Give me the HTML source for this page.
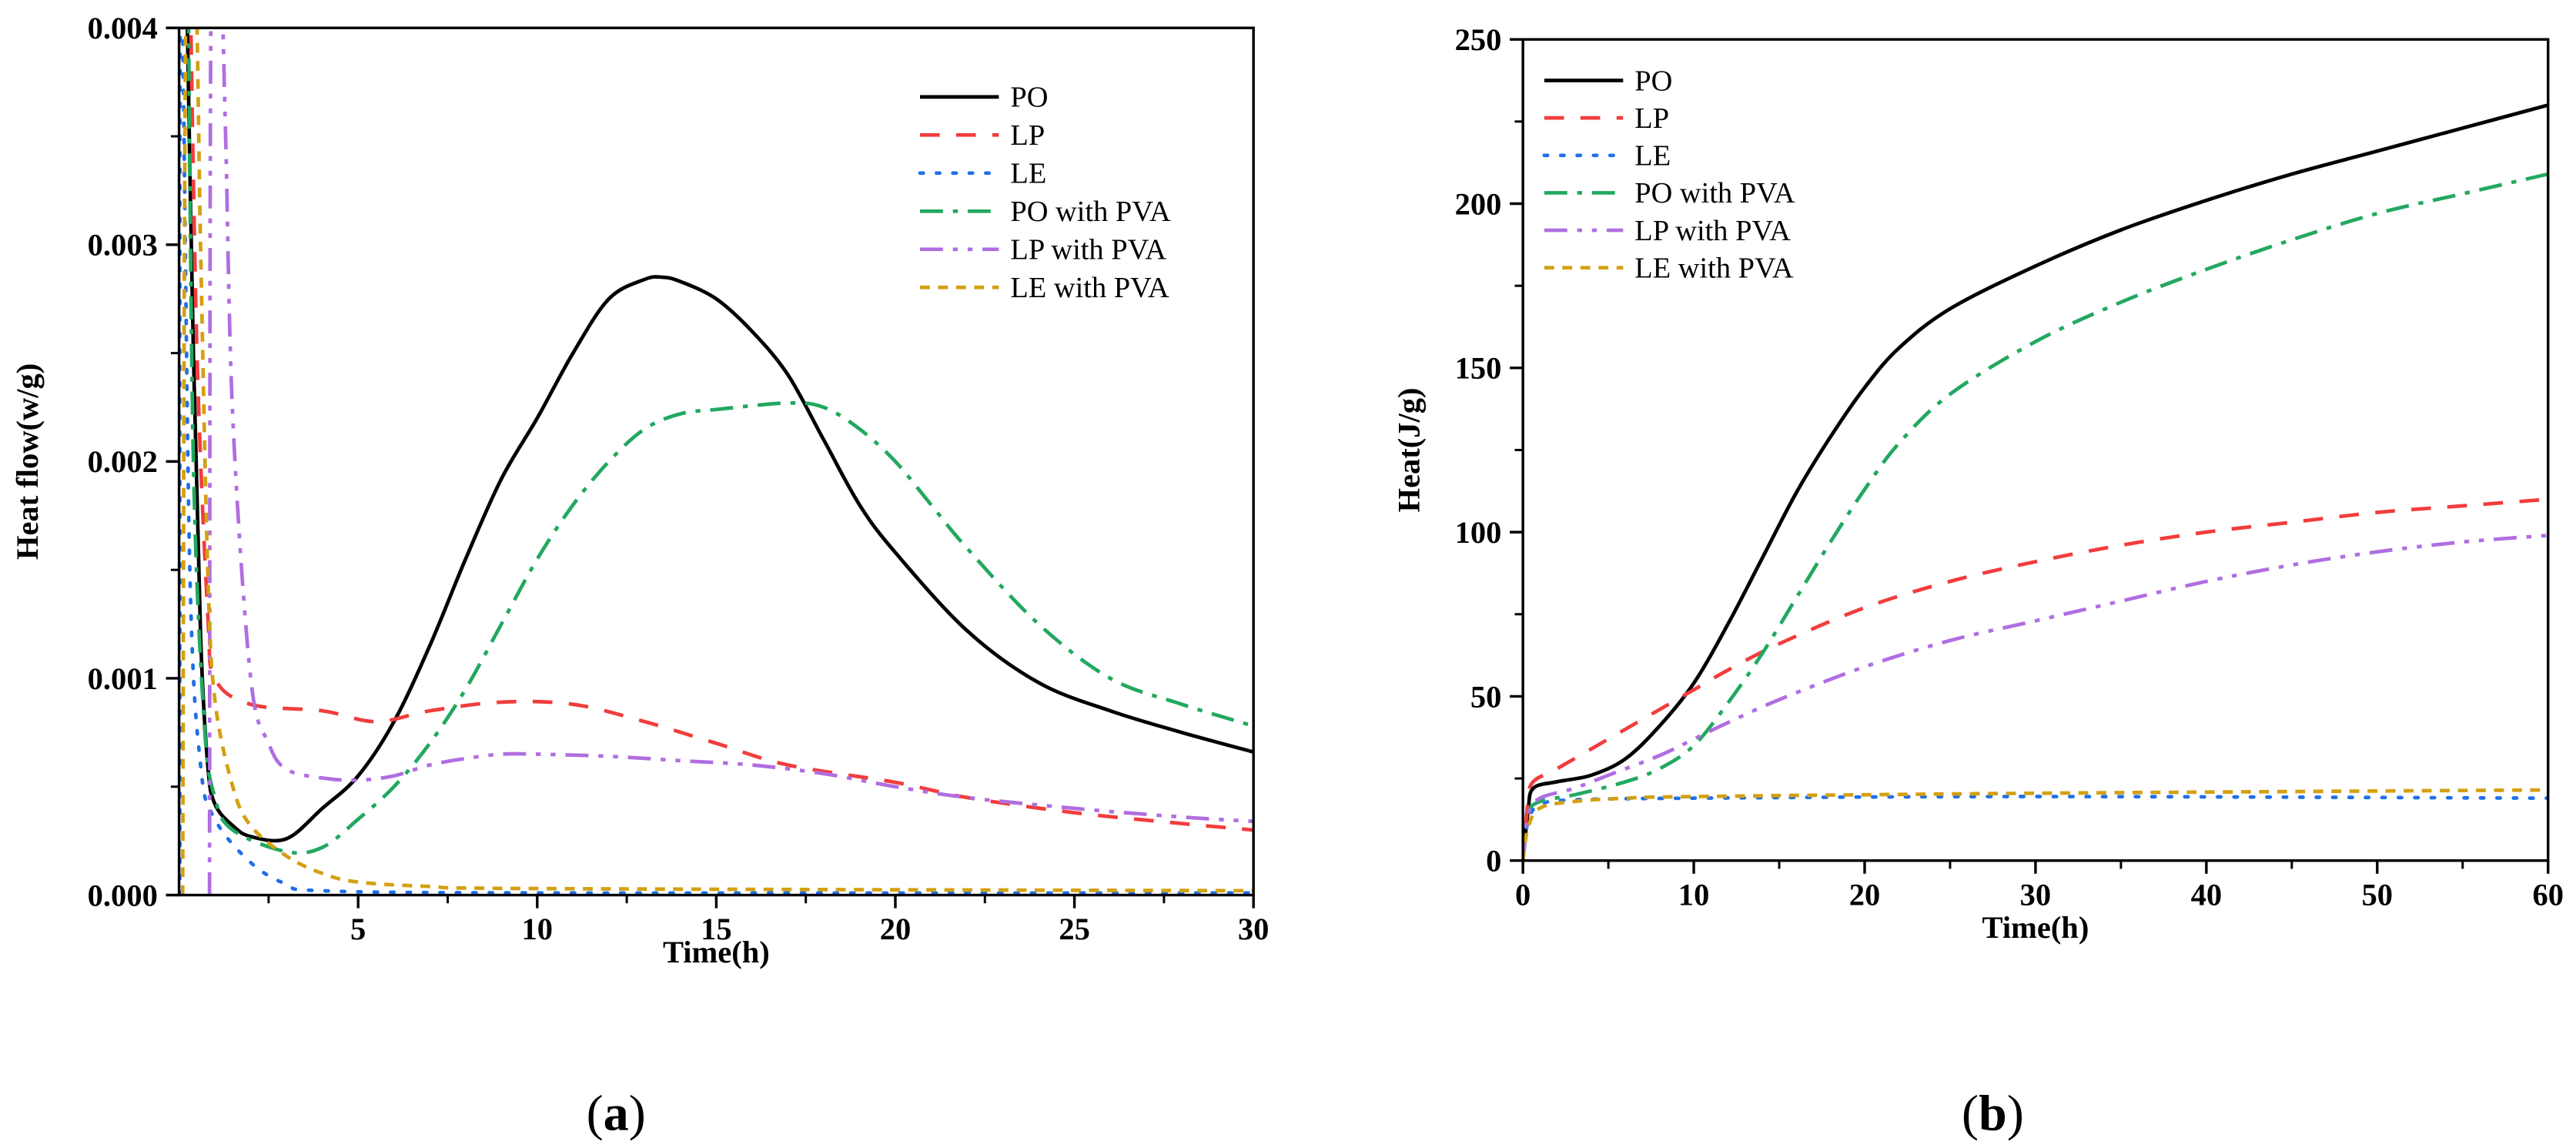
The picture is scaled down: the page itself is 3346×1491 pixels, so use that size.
<!DOCTYPE html>
<html><head><meta charset="utf-8"><style>
html,body{margin:0;padding:0;background:#fff;}
svg{display:block;}
text{font-family:"Liberation Serif",serif;}
.tk{font-weight:bold;font-size:19px;}
.lg{font-size:18px;}
</style></head><body>
<svg id="fig" width="3346" height="1491" viewBox="0 0 1568 699" preserveAspectRatio="none" xmlns="http://www.w3.org/2000/svg">
<defs>
<clipPath id="clipA"><rect x="109" y="17" width="654" height="528"/></clipPath>
<clipPath id="clipB"><rect x="927" y="24" width="624" height="500"/></clipPath>
</defs>
<g id="panelA"></g>
<g id="panelB"></g>
<text x="375" y="688" text-anchor="middle" font-size="31">(<tspan font-weight="bold">a</tspan>)</text>
<text x="1213" y="688" text-anchor="middle" font-size="31">(<tspan font-weight="bold">b</tspan>)</text>
</svg>
<script>
// ---- Panel A data (heat flow, x1e-3 W/g) ----
const seriesNames = ["PO","LP","LE","PO with PVA","LP with PVA","LE with PVA"];
const seriesNamesB = ["PO","LP","LE","PO with PVA","LP  with PVA","LE with PVA"];
const aXTicks = [5,10,15,20,25,30];
const aYTicks = ["0.000","0.001","0.002","0.003","0.004"];
const aPO_t = [0.2,0.4,0.6,0.8,1.0,1.5,2,3,4,5,6,7,8,9,10,11,12,13,13.5,14,15,16,17,18,19,20,22,24,26,28,30];
const aPO_v = [4.3,2.5,1.2,0.6,0.42,0.32,0.27,0.26,0.4,0.55,0.8,1.15,1.55,1.92,2.2,2.5,2.75,2.84,2.85,2.83,2.75,2.6,2.4,2.1,1.8,1.58,1.22,0.98,0.85,0.75,0.66];
const aLP_t = [0.3,0.5,0.8,1,2,4,5.5,7,9,11,13,15,17,20,22,25,28,30];
const aLP_v = [4.3,2.5,1.3,1.0,0.88,0.85,0.8,0.85,0.89,0.88,0.8,0.7,0.6,0.52,0.45,0.38,0.33,0.3];
const aLE_t = [0.02,0.05,0.3,0.6,1,2,3,4,10,30];
const aLE_v = [0,4.3,1.5,0.6,0.35,0.15,0.05,0.02,0.01,0.01];
const aPOP_t = [0.25,0.4,0.7,1,1.5,3,4,5,6,7,8,9,10,11,12,13,14,15,17,18,19,20,21,22,24,26,28,30];
const aPOP_v = [4.3,2,0.8,0.45,0.3,0.2,0.22,0.35,0.5,0.7,0.95,1.25,1.55,1.8,2.0,2.15,2.22,2.24,2.27,2.25,2.15,2.0,1.8,1.6,1.25,1.0,0.88,0.78];
const aLPP_t = [0.85,0.9,1.15,1.3,1.5,2,2.5,3,4,5,6,7,8,9,10,12,14,16,18,20,22,25,28,30];
const aLPP_v = [0,4.3,4.3,3.5,2.2,1.0,0.7,0.58,0.54,0.53,0.55,0.6,0.63,0.65,0.65,0.64,0.62,0.6,0.56,0.5,0.45,0.4,0.36,0.34];
const aLEP_t = [0.1,0.2,0.45,0.6,0.8,1,1.5,2,3,4,5,7,10,30];
const aLEP_v = [0,4.3,4.3,3,1.5,0.9,0.5,0.32,0.18,0.1,0.06,0.04,0.03,0.02];
// ---- Panel B data (heat, J/g) ----
const bXTicks = [0,10,20,30,40,50,60];
const bYTicks = [0,50,100,150,200,250];
const bPO_t = [0,0.3,0.6,2,4,6,8,10,12,14,16,18,20,22,25,30,35,40,45,50,55,60];
const bPO_v = [0,15,22,24,26,31,41,54,72,92,112,129,144,156,168,181,192,201,209,216,223,230];
const bLP_t = [0,0.3,0.6,2,5,8,10,12,15,20,25,30,35,40,45,50,55,60];
const bLP_v = [0,18,24,28,37,46,52,58,66,77,85,91,96,100,103,106,108,110];
const bLE_t = [0,0.3,1,3,10,30,60];
const bLE_v = [0,12,17,18.5,19,19.5,19];
const bPOP_t = [0,0.3,1,3,6,8,10,12,14,16,18,20,22,25,30,35,40,45,50,55,60];
const bPOP_v = [0,14,18,20,24,28,35,48,63,80,97,113,127,142,158,170,180,189,197,203,209];
const bLPP_t = [0,0.3,1,3,5,8,10,12,15,20,25,30,35,40,45,50,55,60];
const bLPP_v = [0,14,19,22,26,32,37,42,49,59,67,73,79,85,90,94,97,99];
const bLEP_t = [0,0.3,1,3,6,10,30,60];
const bLEP_v = [0,10,16,18,19,19.5,20.5,21.5];

const NS="http://www.w3.org/2000/svg";
const colors=["#000","#f23c3c","#1f6fe8","#22a860","#b06ee0","#d4a012"];
const dashes=["","12 10","2 8","14 6 3 6","14 6 3 6 3 6","6 5"];
function mk(tag,attrs,parent){const e=document.createElementNS(NS,tag);for(const k in attrs)e.setAttribute(k,attrs[k]);parent.appendChild(e);return e;}
function smoothPath(pts){let d="M"+pts[0][0].toFixed(2)+","+pts[0][1].toFixed(2);
 for(let i=0;i<pts.length-1;i++){const p0=pts[i-1]||pts[i],p1=pts[i],p2=pts[i+1],p3=pts[i+2]||p2;
  const c1=[p1[0]+(p2[0]-p0[0])/6,p1[1]+(p2[1]-p0[1])/6],c2=[p2[0]-(p3[0]-p1[0])/6,p2[1]-(p3[1]-p1[1])/6];
  d+=" C"+c1.join(",")+" "+c2.join(",")+" "+p2[0].toFixed(2)+","+p2[1].toFixed(2);}
 return d;}

function drawPanel(g,cfg){
 const {x0,x1,y0,y1,xmin,xmax,ymin,ymax,clip}=cfg;
 const sx=v=>x0+(v-xmin)/(xmax-xmin)*(x1-x0);
 const sy=v=>y0-(v-ymin)/(ymax-ymin)*(y0-y1);
 const sg=mk("g",{"clip-path":"url(#"+clip+")"},g);
 
 
 cfg.series.forEach((s,i)=>{
  const pts=s[0].map((t,j)=>[sx(t),sy(s[1][j])]);
  const p=mk("path",{d:smoothPath(pts),fill:"none",stroke:colors[i],"stroke-width":2.2,"stroke-dasharray":dashes[i],"stroke-linecap":i==2?"round":"butt"},sg);
  
  
 });
 const fr=mk("rect",{x:x0,y:y1,width:x1-x0,height:y0-y1,fill:"none",stroke:"#000","stroke-width":1.6},g);
 
 
 cfg.xTicks.forEach((v,i)=>{
  const x=sx(v);
  mk("line",{x1:x,x2:x,y1:y0,y2:y0+8,stroke:"#000","stroke-width":1.6},g);
  if(i<cfg.xTicks.length-1){const xm=sx(v+(cfg.xTicks[1]-cfg.xTicks[0])/2);mk("line",{x1:xm,x2:xm,y1:y0,y2:y0+5,stroke:"#000","stroke-width":1.4},g);}
  if(cfg.xMinorFirst&&i==0){const xm=sx(v-(cfg.xTicks[1]-cfg.xTicks[0])/2);mk("line",{x1:xm,x2:xm,y1:y0,y2:y0+5,stroke:"#000","stroke-width":1.4},g);}
  const t=mk("text",{x:x,y:y0+27,"text-anchor":"middle",class:"tk"},g);t.textContent=v;
  
  
 });
 cfg.yTicks.forEach((lab,i)=>{
  const v=parseFloat(lab)*cfg.yMul;const y=sy(v);
  mk("line",{x1:x0-8,x2:x0,y1:y,y2:y,stroke:"#000","stroke-width":1.6},g);
  if(i<cfg.yTicks.length-1){const ym=sy(v+cfg.yStep/2);mk("line",{x1:x0-5,x2:x0,y1:ym,y2:ym,stroke:"#000","stroke-width":1.4},g);}
  const t=mk("text",{x:x0-13,y:y+6.5,"text-anchor":"end",class:"tk"},g);t.textContent=lab;
  
  
 });
 const xt=mk("text",{x:(x0+x1)/2,y:cfg.xTitleY,"text-anchor":"middle",class:"tk"},g);xt.textContent="Time(h)";
 
 
 const yt=mk("text",{x:0,y:0,"text-anchor":"middle",class:"tk",transform:"translate("+cfg.yTitleX+","+(y0+y1)/2+") rotate(-90)"},g);yt.textContent=cfg.yTitle;
 
 
 const lg=mk("g",{},g);
 
 
 cfg.names.forEach((n,i)=>{
  const y=cfg.legY+i*cfg.legDy;
  const ln=mk("line",{x1:cfg.legX,x2:cfg.legX+48,y1:y,y2:y,stroke:colors[i],"stroke-width":2.2,"stroke-dasharray":dashes[i],"stroke-linecap":i==2?"round":"butt"},lg);
  
  
  const t=mk("text",{x:cfg.legX+55,y:y+6,class:"lg","xml:space":"preserve"},lg);t.textContent=n;
  
  
 });
}
drawPanel(document.getElementById("panelA"),{x0:109,x1:763,y0:545,y1:17,xmin:0,xmax:30,ymin:0,ymax:4,clip:"clipA",
 series:[[aPO_t,aPO_v],[aLP_t,aLP_v],[aLE_t,aLE_v],[aPOP_t,aPOP_v],[aLPP_t,aLPP_v],[aLEP_t,aLEP_v]],names:seriesNames,
 xTicks:aXTicks,xMinorFirst:true,yTicks:aYTicks,yMul:1000,yStep:1,xTitleY:586,yTitleX:23,yTitle:"Heat flow(w/g)",legX:560,legY:59,legDy:23.2});
drawPanel(document.getElementById("panelB"),{x0:927,x1:1551,y0:524,y1:24,xmin:0,xmax:60,ymin:0,ymax:250,clip:"clipB",
 series:[[bPO_t,bPO_v],[bLP_t,bLP_v],[bLE_t,bLE_v],[bPOP_t,bPOP_v],[bLPP_t,bLPP_v],[bLEP_t,bLEP_v]],names:seriesNamesB,
 xTicks:bXTicks,yTicks:bYTicks.map(String),yMul:1,yStep:50,xTitleY:571,yTitleX:864,yTitle:"Heat(J/g)",legX:940,legY:49,legDy:22.8});
</script>
</body></html>
